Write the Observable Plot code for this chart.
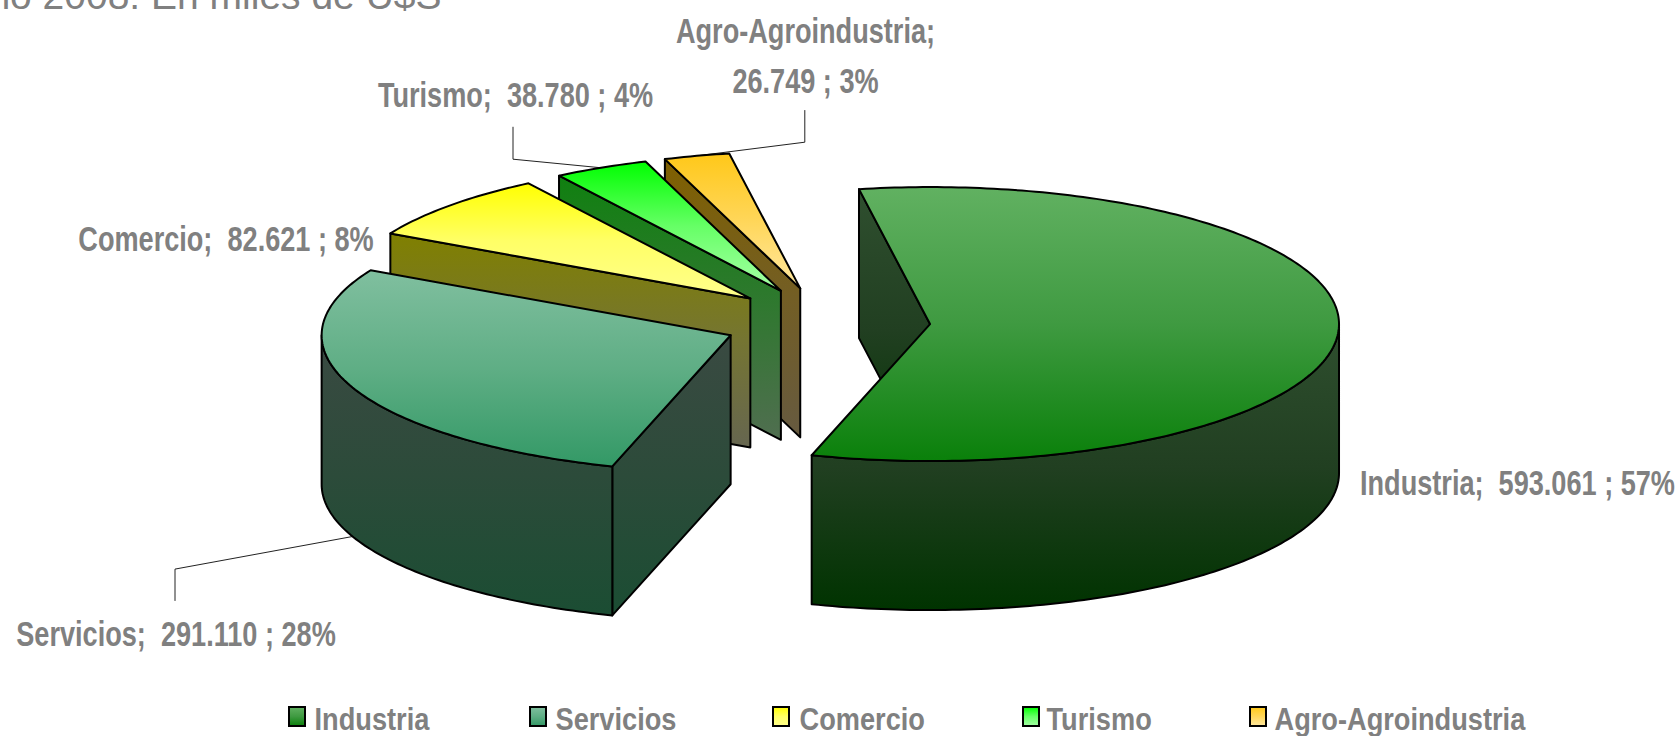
<!DOCTYPE html>
<html>
<head>
<meta charset="utf-8">
<script src="https://cdn.jsdelivr.net/npm/d3@7"></script>
<script src="https://cdn.jsdelivr.net/npm/@observablehq/plot@0.6"></script>
<style>
html,body{margin:0;padding:0;background:#fff;overflow:hidden}
svg{display:block}
</style>
</head>
<body>
<div id="chart"></div>
<script>
// Data
const categories = ["Industria", "Servicios", "Comercio", "Turismo", "Agro-Agroindustria"];
const values = [593061, 291110, 82621, 38780, 26749];
const valueLabels = ["593.061", "291.110", "82.621", "38.780", "26.749"];
const percentLabels = ["57%", "28%", "8%", "4%", "3%"];
const titleText = "Año 2008: En miles de U$S";

// Styles: [top of face, middle, bottom of face]
const faceColors = [["#61b161", "#3f9a41", "#0a800a"], ["#80bf9f", "#5fae85", "#339966"], ["#ffff00", "#ffff66", "#ffff8c"], ["#00ff00", "#66ff66", "#a6ffa6"], ["#ffc819", "#ffd659", "#ffe8a0"]];
const wallColors = [["#2f4f2f", "#213f21", "#003300"], ["#3a4a42", "#2c4b3a", "#1b4d33"], ["#808000", "#757532", "#666650"], ["#108010", "#307830", "#506e50"], ["#7f6000", "#735e25", "#665a40"]];

// Pie layout, in the scale's units
const pie = {cx: 826, cy: 321.5, rx: 409, ry: 137, explode: 103.7, depth: 149, startDeg: -10};
const labelLayout = [
  {x: 1517, y: 478}, {x: 175.5, y: 629}, {x: 225.5, y: 234}, {x: 515, y: 90}, {x: 805, y: 51}
];
const leaderElbows = [null, {x: 174.5, y: 568.6, end: 600}, null, {x: 512.5, y: 158.7, end: 126.7}, {x: 804.3, y: 141.7, end: 110}];
const legendSwatchX = [289, 530, 773, 1023, 1250];
const legendTextX = [314, 555, 799, 1046, 1274];

const rad = Math.PI / 180;
const total = d3.sum(values);
let acc = pie.startDeg;
const slices = values.map((v, i) => {
  const a0 = acc, a1 = acc + v / total * 360;
  acc = a1;
  const mid = (a0 + a1) / 2 * rad;
  const ax = pie.cx + pie.explode * Math.sin(mid);
  const ay = pie.cy - pie.explode * (pie.ry / pie.rx) * Math.cos(mid);
  const pt = (deg, h = 0) => ({x: ax + pie.rx * Math.sin(deg * rad), y: ay - pie.ry * Math.cos(deg * rad) + h});
  return {i, a0, a1, midDeg: (a0 + a1) / 2, ax, ay, pt};
});
const arc = (s, from, to, h = 0) => {
  const n = Math.max(2, Math.ceil(Math.abs(to - from)));
  return d3.range(n + 1).map(k => s.pt(from + (to - from) * k / n, h));
};
const closed = pts => [...pts, pts[0]];
const apex = (s, h = 0) => ({x: s.ax, y: s.ay + h});
const radialWall = (s, deg) => closed([apex(s), s.pt(deg), s.pt(deg, pie.depth), apex(s, pie.depth)]);

const stroke = {x: "x", y: "y", stroke: "#000", strokeWidth: 2, strokeLinejoin: "round"};
const marks = [];

// Title, clipped by the top of the picture as in the reference
marks.push(Plot.text([titleText], {x: () => 441, y: () => 8, text: d => d, textAnchor: "end", lineAnchor: "bottom", fontFamily: "Liberation Sans", fontSize: 39, fill: "#808080"}));

// Leader lines
slices.forEach(s => {
  const e = leaderElbows[s.i];
  if (!e) return;
  const anchor = s.i === 1 ? s.pt(s.midDeg, pie.depth) : s.pt(s.midDeg);
  marks.push(Plot.line([anchor, {x: e.x, y: e.y}, {x: e.x, y: e.end}], {x: "x", y: "y", stroke: "#222", strokeWidth: 1}));
});

// Slices, back to front
[4, 3, 2, 1, 0].forEach(i => {
  const s = slices[i];
  marks.push(Plot.line(radialWall(s, s.a0), {...stroke, fill: `url(#wall${i})`}));
  const o0 = Math.max(s.a0, 90), o1 = Math.min(s.a1, 270);
  if (o1 > o0)
    marks.push(Plot.line(closed([...arc(s, o0, o1), ...arc(s, o1, o0, pie.depth)]), {...stroke, fill: `url(#wall${i})`}));
  marks.push(Plot.line(closed([apex(s), ...arc(s, s.a0, s.a1)]), {...stroke, fill: `url(#face${i})`}));
});

// Data labels
const nb = "\u00a0";
categories.forEach((c, i) => {
  const sep = i === 4 ? ";\n" : `;${nb}${nb}`;
  marks.push(Plot.text([`${c}${sep}${valueLabels[i]}${nb};${nb}${percentLabels[i]}`], {
    x: () => labelLayout[i].x, y: () => labelLayout[i].y, text: d => d, textAnchor: "middle", lineHeight: 1.43,
    fontFamily: "Liberation Sans", fontWeight: "bold", fontSize: 35, fill: "#808080"
  }));
});

// Legend
categories.forEach((c, i) => {
  marks.push(Plot.rect([c], {x1: () => legendSwatchX[i], x2: () => legendSwatchX[i] + 16, y1: () => 707, y2: () => 726, fill: `url(#face${i})`, stroke: "#000", strokeWidth: 2}));
  marks.push(Plot.text([c], {x: () => legendTextX[i], y: () => 719, text: d => d, textAnchor: "start",
    fontFamily: "Liberation Sans", fontWeight: "bold", fontSize: 32, fill: "#808080"}));
});

const chart = Plot.plot({
  width: 1679, height: 736, margin: 0,
  x: {domain: [0, 1679], range: [0, 1679], axis: null},
  y: {domain: [0, 736], range: [0, 736], axis: null},
  style: {background: "#fff", overflow: "hidden"},
  marks
});

// Condensed lettering: no narrow face is installed, so the bold face is squeezed horizontally
d3.select(chart).selectAll("text").each(function() {
  const t = this.textContent;
  if (t === titleText) return;
  const sx = categories.includes(t) ? 0.85 : 0.775;
  this.setAttribute("transform", `${this.getAttribute("transform") || ""} scale(${sx},1)`);
});

// Gradients referenced by the fills
const defs = d3.select(chart).insert("defs", ":first-child");
const addGrad = (id, colors) => {
  const g = defs.append("linearGradient").attr("id", id).attr("x1", 0).attr("y1", 0).attr("x2", 0).attr("y2", 1);
  colors.forEach((c, k) => g.append("stop").attr("offset", k / (colors.length - 1)).attr("stop-color", c));
};
faceColors.forEach((c, i) => addGrad(`face${i}`, c));
wallColors.forEach((c, i) => addGrad(`wall${i}`, c));

document.getElementById("chart").append(chart);
</script>
</body>
</html>
